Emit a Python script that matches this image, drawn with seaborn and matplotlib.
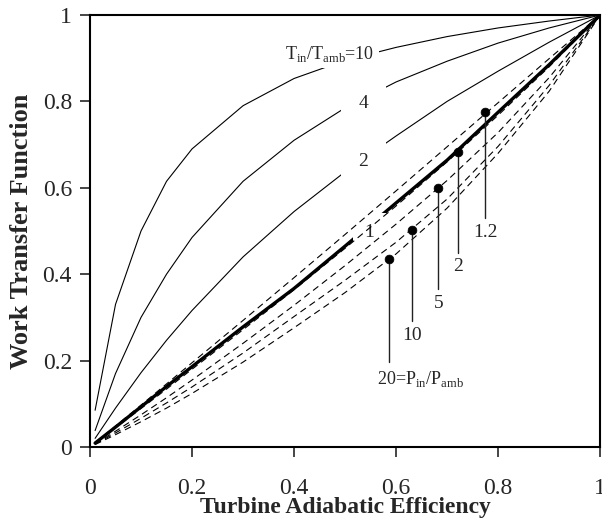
import numpy as np
import pandas as pd
import matplotlib
matplotlib.use('Agg')
import matplotlib.pyplot as plt
import seaborn as sns

# efficiency grid shared by all curves
eff = [0.01, 0.05, 0.1, 0.15, 0.2, 0.3, 0.4, 0.5, 0.6, 0.7, 0.8, 0.9, 1.0]

# solid curves, temperature ratio Tin/Tamb
t10 = [0.085, 0.33, 0.50, 0.615, 0.69, 0.79, 0.853, 0.895, 0.925, 0.95, 0.97, 0.986, 1.0]
t4 = [0.038, 0.17, 0.30, 0.40, 0.485, 0.615, 0.71, 0.785, 0.845, 0.893, 0.935, 0.97, 1.0]
t2 = [0.02, 0.09, 0.172, 0.247, 0.316, 0.44, 0.545, 0.637, 0.72, 0.80, 0.87, 0.937, 1.0]
t1 = [0.009, 0.046, 0.093, 0.14, 0.186, 0.278, 0.367, 0.465, 0.565, 0.664, 0.775, 0.885, 1.0]

# dashed curves, pressure ratio Pin/Pamb
p1_2 = [0.0097, 0.0485, 0.097, 0.146, 0.195, 0.293, 0.392, 0.492, 0.593, 0.695, 0.797, 0.899, 1.0]
p2 = [0.0088, 0.0443, 0.089, 0.134, 0.18, 0.2715, 0.364, 0.46, 0.558, 0.66, 0.768, 0.88, 1.0]
p5 = [0.0072, 0.0365, 0.0745, 0.114, 0.155, 0.24, 0.328, 0.42, 0.516, 0.617, 0.728, 0.855, 1.0]
p10 = [0.0064, 0.0325, 0.0665, 0.102, 0.139, 0.2175, 0.302, 0.386, 0.474, 0.574, 0.696, 0.837, 1.0]
p20 = [0.0056, 0.0285, 0.0585, 0.090, 0.124, 0.1965, 0.276, 0.3575, 0.447, 0.553, 0.68, 0.8235, 1.0]

# marked points on the dashed curves
dot_x = [0.775, 0.722, 0.683, 0.632, 0.587]
dot_y = [0.776, 0.683, 0.600, 0.503, 0.434]
dot_labels = ['1.2', '2', '5', '10', r'20=P$_{\rm in}$/P$_{\rm amb}$']
leader_end = [0.531, 0.450, 0.365, 0.291, 0.196]
label_y = [0.497, 0.418, 0.332, 0.259, 0.157]

ticks = [0, 0.2, 0.4, 0.6, 0.8, 1.0]
tick_labels = ['0', '0.2', '0.4', '0.6', '0.8', '1']

sns.set_style('ticks')
plt.rcParams['font.family'] = ['Liberation Serif', 'DejaVu Serif']
plt.rcParams['mathtext.fontset'] = 'custom'
plt.rcParams['mathtext.rm'] = 'Liberation Serif'

fig = plt.figure(figsize=(6.02, 5.22), dpi=100)
ax = fig.add_axes([0.1495, 0.1437, 0.8475, 0.8276])

solid = pd.DataFrame({'eff': eff, 't10': t10, 't4': t4, 't2': t2, 't1': t1})
dashed = pd.DataFrame({'eff': eff, 'p1_2': p1_2, 'p2': p2, 'p5': p5, 'p10': p10, 'p20': p20})

for col in ['t10', 't4', 't2']:
    sns.lineplot(data=solid, x='eff', y=col, ax=ax, color='black', lw=0.8, zorder=2)
sns.lineplot(data=solid, x='eff', y='t1', ax=ax, color='black', lw=2.4, zorder=2)

for col in ['p1_2', 'p2', 'p5', 'p10', 'p20']:
    sns.lineplot(data=dashed, x='eff', y=col, ax=ax, color='black', lw=0.8,
                 linestyle=(0, (6, 4)), zorder=4)

# curve labels with white boxes that break the solid lines
ax.text(0.47, 0.91, r'T$_{\rm in}$/T$_{\rm amb}$=10', fontsize=13, ha='center', va='center',
        bbox=dict(boxstyle='square,pad=0.25', fc='white', ec='none'), zorder=3)
ax.text(0.536, 0.794, '4', fontsize=14, ha='center', va='center',
        bbox=dict(boxstyle='square,pad=0.9', fc='white', ec='none'), zorder=3)
ax.text(0.536, 0.66, '2', fontsize=14, ha='center', va='center',
        bbox=dict(boxstyle='square,pad=0.9', fc='white', ec='none'), zorder=3)
ax.text(0.548, 0.496, '1', fontsize=14, ha='center', va='center',
        bbox=dict(boxstyle='square,pad=0.6', fc='white', ec='none'), zorder=3)

# leaders and dots
for x, y0, y1 in zip(dot_x, dot_y, leader_end):
    ax.plot([x, x], [y0, y1], color='#222222', lw=1.0, zorder=5)
sns.scatterplot(x=dot_x, y=dot_y, ax=ax, color='black', s=40, edgecolor='black', zorder=6)
for i, (x, lab, ly) in enumerate(zip(dot_x, dot_labels, label_y)):
    if i == 4:
        ax.text(0.562, ly, lab, fontsize=13, ha='left', va='center', zorder=6)
    else:
        ax.text(x, ly, lab, fontsize=14, ha='center', va='center', zorder=6)

ax.set_xlim(0, 1)
ax.set_ylim(0, 1)
ax.set_xticks(ticks)
ax.set_xticklabels(tick_labels)
ax.set_yticks(ticks)
ax.set_yticklabels(tick_labels)
ax.tick_params(axis='x', direction='out', length=7, width=1.2, pad=15, labelsize=17)
ax.tick_params(axis='y', direction='out', length=7, width=1.2, pad=6, labelsize=17)
for sp in ax.spines.values():
    sp.set_visible(True)
    sp.set_linewidth(1.5)
    sp.set_color('black')

ax.set_xlabel('Turbine Adiabatic Efficiency', fontsize=17, fontweight='bold', labelpad=-1)
ax.set_ylabel('Work Transfer Function', fontsize=19, fontweight='bold', labelpad=7)

plt.savefig('out.png', dpi=100)
